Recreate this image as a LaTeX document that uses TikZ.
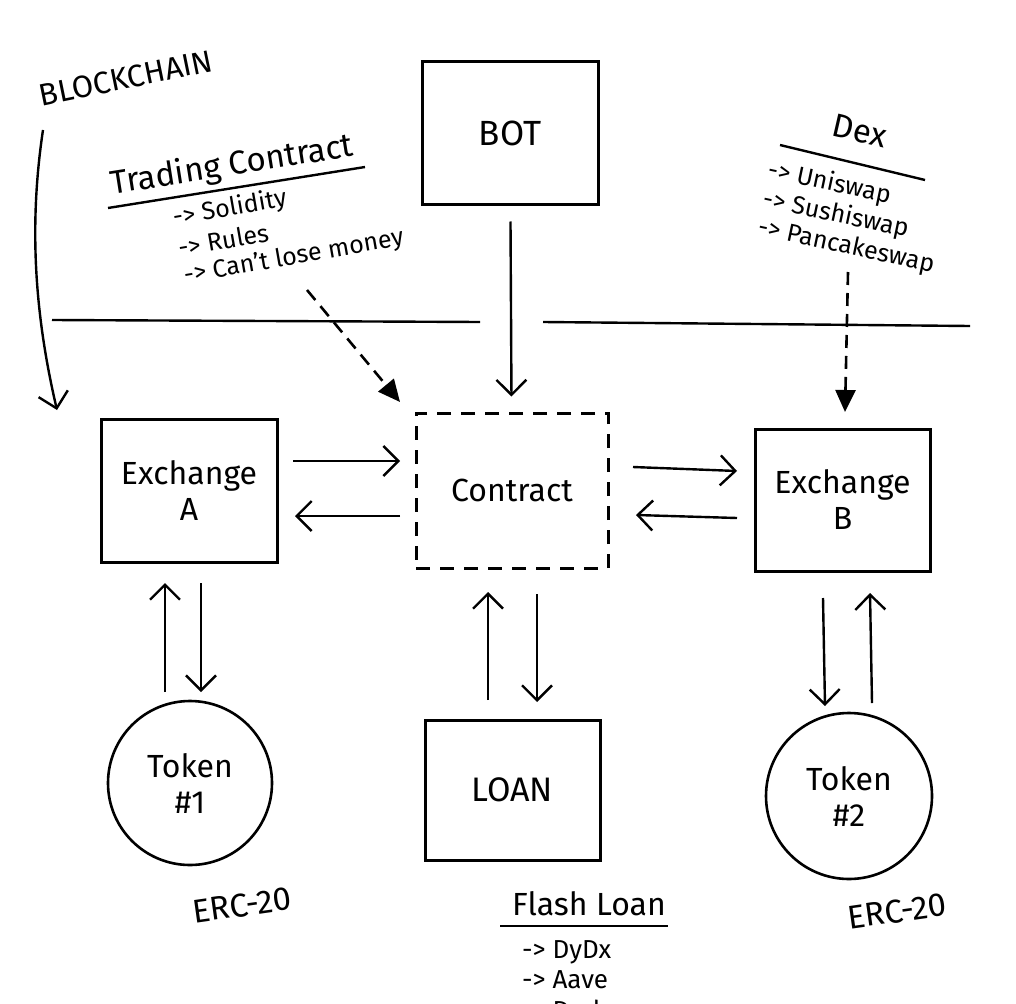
\documentclass[tikz,border=0pt]{standalone}
\usepackage{fontspec}
\setmainfont{Fira Sans}
\usetikzlibrary{arrows.meta}
\begin{document}
\begin{tikzpicture}[x=1pt,y=-1pt,
  box/.style={draw, line width=3pt, minimum width=#1, inner sep=0pt, align=center},
  lbl/.style={font=\fontsize{32}{36}\selectfont},
  hand/.style={font=\fontsize{31}{36}\selectfont, inner sep=1pt},
  small/.style={font=\fontsize{25}{28}\selectfont, inner sep=1pt, anchor=west},
  arr/.style={line width=2.4pt, -{Straight Barb[length=15pt,width=30pt,line width=2.4pt]}},
  darr/.style={line width=2.6pt, dash pattern=on 13pt off 8pt, -{Triangle[length=22pt,width=20pt]}},
  rule/.style={line width=2.4pt}]
\clip (0,0) rectangle (1016,1003);
\fill[white] (0,0) rectangle (1016,1003);

% boxes
\node[box=176pt, minimum height=142pt, lbl, font=\fontsize{35}{40}\selectfont] (bot) at (510,133) {BOT};
\node[box=176pt, minimum height=143pt, lbl] (exA) at (189,490.5) {Exchange\\[0pt]A};
\node[box=192pt, minimum height=155pt, lbl, line width=3pt, dash pattern=on 14pt off 10pt] (contract) at (512,490.5) {Contract};
\node[box=175pt, minimum height=142pt, lbl] (exB) at (842.5,500) {Exchange\\[0pt]B};
\node[box=175pt, minimum height=140pt, lbl, font=\fontsize{34}{40}\selectfont] (loan) at (512.5,790) {LOAN};
\node[draw, circle, line width=2.6pt, minimum size=164pt, inner sep=0pt, align=center, lbl] (tok1) at (190,783) {Token\\[0pt]\#1};
\node[draw, circle, line width=2.6pt, minimum size=166pt, inner sep=0pt, align=center, lbl] (tok2) at (849,796) {Token\\[0pt]\#2};

% labels
\node[hand, rotate=11.5] (blockchain) at (126,78) {BLOCKCHAIN};
\node[hand, rotate=9, font=\fontsize{33}{38}\selectfont] (trading) at (232,166) {Trading Contract};
\node[small, rotate=10] (sol) at (172,219) {-> Solidity};
\node[small, rotate=10] (rules) at (177,248) {-> Rules};
\node[small, rotate=10] (lose) at (183,277) {-> Can't lose money};
\node[hand, rotate=-13, font=\fontsize{33}{38}\selectfont] (dex) at (860,131) {Dex};
\node[small, rotate=-12] (uni) at (767,170) {-> Uniswap};
\node[small, rotate=-12] (sushi) at (762,199) {-> Sushiswap};
\node[small, rotate=-12] (pancake) at (757,228) {-> Pancakeswap};
\node[hand, rotate=8, font=\fontsize{33}{38}\selectfont] (erc1) at (242,905) {ERC-20};
\node[hand, rotate=8, font=\fontsize{33}{38}\selectfont] (erc2) at (897,911) {ERC-20};
\node[hand, font=\fontsize{32}{36}\selectfont] (flash) at (589,904) {Flash Loan};
\node[small, font=\fontsize{26}{28}\selectfont] (dydx) at (521,952) {-> DyDx};
\node[small, font=\fontsize{26}{28}\selectfont] (aave) at (521,980) {-> Aave};
\node[small, font=\fontsize{26}{28}\selectfont] (dodo) at (521,1010) {-> Dodo};

% rules (underlines and separators)
\coordinate (tu1) at (108,208); \coordinate (tu2) at (365,167);
\coordinate (du1) at (780,145); \coordinate (du2) at (925,180);
\coordinate (fu1) at (500,926); \coordinate (fu2) at (668,926);
\coordinate (hl1) at (52,320);  \coordinate (hl2) at (480,322);
\coordinate (hr1) at (543,322); \coordinate (hr2) at (970,326);
\draw[rule] (tu1) -- (tu2);
\draw[rule] (du1) -- (du2);
\draw[rule] (fu1) -- (fu2);
\draw[rule] (hl1) -- (hl2);
\draw[rule] (hr1) -- (hr2);

% blockchain arrow
\coordinate (bc1) at (43,130); \coordinate (bc2) at (57,410);
\draw[arr] (bc1) .. controls (28,230) and (36,320) .. (bc2);

% dashed arrows
\coordinate (tc1) at (307,290); \coordinate (tc2) at (400,402);
\draw[darr] (tc1) -- (tc2);
\coordinate (dx1) at (848,272); \coordinate (dx2) at (845,412);
\draw[darr] (dx1) -- (dx2);

% bot -> contract
\draw[arr, shorten <=16pt, shorten >=15pt] (bot) -- (contract);

% exchange A <-> contract
\coordinate (a1) at (293,461); \coordinate (a2) at (400,461);
\coordinate (a3) at (400,516); \coordinate (a4) at (295,516);
\draw[arr] (a1) -- (a2);
\draw[arr] (a3) -- (a4);
% contract <-> exchange B
\coordinate (b1) at (633,467); \coordinate (b2) at (737,471);
\coordinate (b3) at (737,518); \coordinate (b4) at (636,515);
\draw[arr] (b1) -- (b2);
\draw[arr] (b3) -- (b4);
% exchange A <-> token 1
\coordinate (t1) at (165,692); \coordinate (t2) at (165,583);
\coordinate (t3) at (201,583); \coordinate (t4) at (201,692);
\draw[arr] (t1) -- (t2);
\draw[arr] (t3) -- (t4);
% contract <-> loan
\coordinate (l1) at (488,700); \coordinate (l2) at (488,592);
\coordinate (l3) at (537,594); \coordinate (l4) at (537,702);
\draw[arr] (l1) -- (l2);
\draw[arr] (l3) -- (l4);
% exchange B <-> token 2
\coordinate (s1) at (823,598); \coordinate (s2) at (825,706);
\coordinate (s3) at (872,703); \coordinate (s4) at (870,593);
\draw[arr] (s1) -- (s2);
\draw[arr] (s3) -- (s4);
\end{tikzpicture}
\end{document}
